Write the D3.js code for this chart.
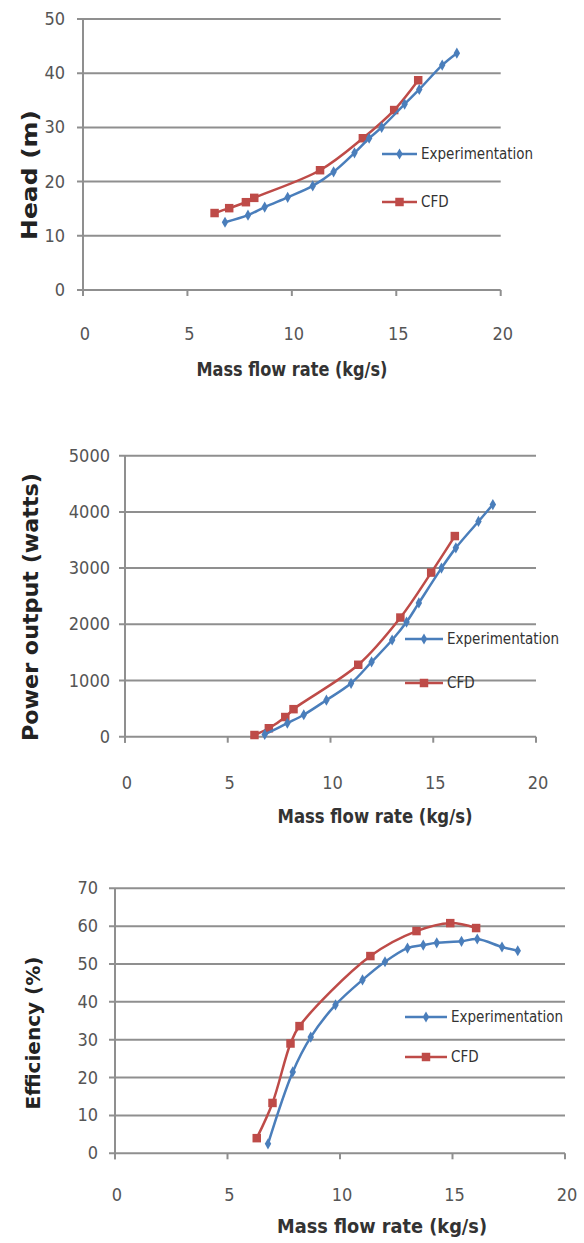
<!DOCTYPE html>
<html>
<head>
<meta charset="utf-8">
<script src="https://cdn.jsdelivr.net/npm/d3@7"></script>
<style>
  body { margin: 0; background: #fff; }
  svg { display: block; }
  .tick-label { font-family: "Liberation Sans Narrow", "DejaVu Sans Condensed", "Liberation Sans", sans-serif; fill: #555; font-size: 18px; }
  .x-title { font-family: "Liberation Sans Narrow", "DejaVu Sans Condensed", "Liberation Sans", sans-serif; fill: #333; font-size: 19px; font-weight: bold; }
  .y-title { font-family: "DejaVu Sans", sans-serif; fill: #222; font-weight: bold; }
  .legend-text { font-family: "Liberation Sans Narrow", "DejaVu Sans Condensed", "Liberation Sans", sans-serif; fill: #333; font-size: 15px; }
</style>
</head>
<body>
<svg id="chart" width="584" height="1243"></svg>
<script>
// mass flow rate (kg/s)
const massFlowExp = [6.8, 7.9, 8.7, 9.8, 11.0, 12.0, 13.0, 13.7, 14.3, 15.4, 16.1, 17.2, 17.9];
const massFlowCfd = [6.3, 7.0, 7.8, 8.2, 11.35, 13.4, 14.9, 16.05];

const headExp = [12.5, 13.8, 15.3, 17.1, 19.2, 21.8, 25.3, 28.0, 30.0, 34.3, 37.0, 41.5, 43.7];
const headCfd = [14.2, 15.1, 16.2, 17.0, 22.1, 28.0, 33.2, 38.7];

const powerExp = [40, 240, 390, 650, 950, 1330, 1720, 2040, 2380, 3000, 3360, 3830, 4130];
const powerCfd = [30, 150, 350, 490, 1280, 2120, 2920, 3570];

const effExp = [2.5, 21.5, 30.7, 39.2, 45.8, 50.6, 54.2, 55.0, 55.6, 56.0, 56.6, 54.5, 53.5];
const effCfd = [4.0, 13.3, 29.0, 33.6, 52.1, 58.7, 60.8, 59.5];

const xTicks = [0, 5, 10, 15, 20];
const headTicks = [0, 10, 20, 30, 40, 50];
const powerTicks = [0, 1000, 2000, 3000, 4000, 5000];
const effTicks = [0, 10, 20, 30, 40, 50, 60, 70];

const seriesNames = ["Experimentation", "CFD"];
const xTitle = "Mass flow rate (kg/s)";

const blue = "#4a7ebb";
const red = "#be4b48";
const grid = "#8f8f8f";

const svg = d3.select("#chart");

const charts = [
  {
    exp: headExp, cfd: headCfd, ticks: headTicks, yTitle: "Head (m)",
    left: 83, right: 500.7, top: 19, bottom: 290,
    tickLabelY: 340, tickLabelRight: 65, xTitleX: 292, xTitleY: 376, xTitleLen: 191,
    yTitleX: 37, yTitleY: 175, yTitleSize: 22, yTitleLen: 130,
    legendX: 382, legendY: [154, 202], legendLen: 35
  },
  {
    exp: powerExp, cfd: powerCfd, ticks: powerTicks, yTitle: "Power output (watts)",
    left: 125, right: 536, top: 455.7, bottom: 736.7,
    tickLabelY: 789, tickLabelRight: 110, xTitleX: 375, xTitleY: 823, xTitleLen: 195,
    yTitleX: 38, yTitleY: 607, yTitleSize: 21, yTitleLen: 268,
    legendX: 405, legendY: [639, 683], legendLen: 38
  },
  {
    exp: effExp, cfd: effCfd, ticks: effTicks, yTitle: "Efficiency (%)",
    left: 115, right: 565, top: 888.3, bottom: 1153.3,
    tickLabelY: 1201, tickLabelRight: 98, xTitleX: 382, xTitleY: 1233, xTitleLen: 210,
    yTitleX: 40, yTitleY: 1033, yTitleSize: 19.5, yTitleLen: 153,
    legendX: 405, legendY: [1017, 1057], legendLen: 42
  }
];

charts.forEach(c => {
  const x = d3.scaleLinear().domain([0, 20]).range([c.left, c.right]);
  const y = d3.scaleLinear().domain([0, d3.max(c.ticks)]).range([c.bottom, c.top]);
  const g = svg.append("g");

  // horizontal gridlines
  g.selectAll(".grid")
    .data(c.ticks)
    .enter().append("line")
    .attr("x1", c.left - 6)
    .attr("x2", c.right)
    .attr("y1", d => y(d))
    .attr("y2", d => y(d))
    .attr("stroke", grid)
    .attr("stroke-width", 2);

  // y axis line
  g.append("line")
    .attr("x1", c.left).attr("x2", c.left)
    .attr("y1", c.top).attr("y2", c.bottom + 6)
    .attr("stroke", grid).attr("stroke-width", 2);

  // x tick marks
  g.selectAll(".xtick")
    .data(xTicks)
    .enter().append("line")
    .attr("x1", d => x(d)).attr("x2", d => x(d))
    .attr("y1", c.bottom).attr("y2", c.bottom + 6)
    .attr("stroke", grid).attr("stroke-width", 2);

  // y tick labels
  g.selectAll(".ylab")
    .data(c.ticks)
    .enter().append("text")
    .attr("class", "tick-label")
    .attr("x", c.tickLabelRight)
    .attr("y", d => y(d) + 6)
    .attr("text-anchor", "end")
    .text(d => d);

  // x tick labels (sit well below the axis)
  g.selectAll(".xlab")
    .data(xTicks)
    .enter().append("text")
    .attr("class", "tick-label")
    .attr("x", d => x(d) + 2)
    .attr("y", c.tickLabelY)
    .attr("text-anchor", "middle")
    .text(d => d);

  g.append("text")
    .attr("class", "x-title")
    .attr("x", c.xTitleX)
    .attr("y", c.xTitleY)
    .attr("text-anchor", "middle")
    .attr("textLength", c.xTitleLen)
    .attr("lengthAdjust", "spacingAndGlyphs")
    .text(xTitle);

  g.append("text")
    .attr("class", "y-title")
    .attr("transform", `translate(${c.yTitleX},${c.yTitleY}) rotate(-90)`)
    .attr("text-anchor", "middle")
    .attr("font-size", c.yTitleSize)
    .attr("textLength", c.yTitleLen)
    .attr("lengthAdjust", "spacingAndGlyphs")
    .text(c.yTitle);

  const line = d3.line()
    .x(d => x(d[0]))
    .y(d => y(d[1]))
    .curve(d3.curveCatmullRom.alpha(0.5));

  const expPts = massFlowExp.map((m, i) => [m, c.exp[i]]);
  const cfdPts = massFlowCfd.map((m, i) => [m, c.cfd[i]]);

  const series = [
    { pts: cfdPts, color: red, symbol: d3.symbolSquare, size: 72 },
    { pts: expPts, color: blue, symbol: d3.symbolDiamond, size: 36 }
  ];

  series.forEach(s => {
    g.append("path")
      .attr("d", line(s.pts))
      .attr("fill", "none")
      .attr("stroke", s.color)
      .attr("stroke-width", 2.5);
    g.selectAll(null)
      .data(s.pts)
      .enter().append("path")
      .attr("transform", d => `translate(${x(d[0])},${y(d[1])})`)
      .attr("d", d3.symbol().type(s.symbol).size(s.size))
      .attr("fill", s.color);
  });

  // legend
  const legendStyle = [
    { color: blue, symbol: d3.symbolDiamond, size: 36 },
    { color: red, symbol: d3.symbolSquare, size: 72 }
  ];
  seriesNames.forEach((name, i) => {
    const ly = c.legendY[i];
    g.append("line")
      .attr("x1", c.legendX).attr("x2", c.legendX + c.legendLen)
      .attr("y1", ly).attr("y2", ly)
      .attr("stroke", legendStyle[i].color).attr("stroke-width", 2.5);
    g.append("path")
      .attr("transform", `translate(${c.legendX + c.legendLen / 2},${ly})`)
      .attr("d", d3.symbol().type(legendStyle[i].symbol).size(legendStyle[i].size))
      .attr("fill", legendStyle[i].color);
    g.append("text")
      .attr("class", "legend-text")
      .attr("x", c.legendX + c.legendLen + 4)
      .attr("y", ly + 5)
      .text(name);
  });
});
</script>
</body>
</html>
